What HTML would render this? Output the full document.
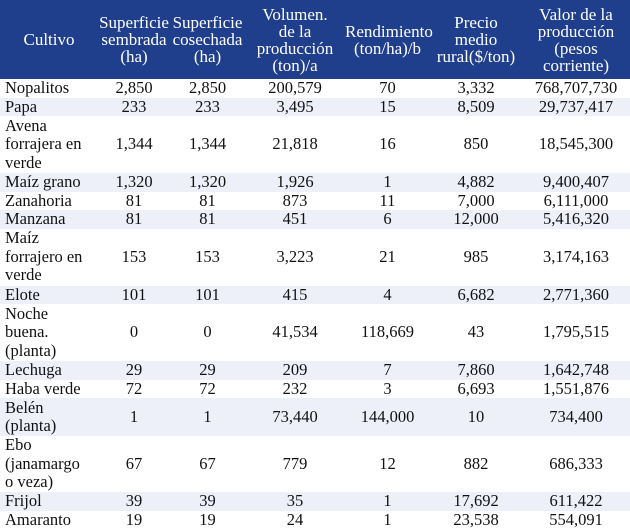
<!DOCTYPE html>
<html><head><meta charset="utf-8"><style>
body{margin:0;width:630px;height:529px;background:#fff;overflow:hidden}
table{border-collapse:collapse;width:630px;table-layout:fixed;font-family:"Liberation Serif",serif;font-size:16.5px;color:#111}
td,th{padding:0;line-height:18.5px;text-align:center;vertical-align:middle;white-space:nowrap}
th{background:#1f3e8c;color:#fff;font-weight:normal;line-height:17px;font-size:17px}
td:first-child{text-align:left;padding-left:5px}
th:first-child{text-align:center}
tr.l td{background:#edf0f9}
</style></head><body>
<table>
<colgroup><col style="width:98px"><col style="width:72px"><col style="width:75px"><col style="width:100px"><col style="width:85px"><col style="width:92px"><col style="width:108px"></colgroup>
<tr style="height:79px">
<th>Cultivo</th>
<th>Superficie<br>sembrada<br>(ha)</th>
<th>Superficie<br>cosechada<br>(ha)</th>
<th>Volumen.<br>de la<br>producción<br>(ton)/a</th>
<th>Rendimiento<br>(ton/ha)/b</th>
<th>Precio<br>medio<br>rural($/ton)</th>
<th>Valor de la<br>producción<br>(pesos<br>corriente)</th>
</tr>
<tr style="height:17px"><td>Nopalitos</td><td>2,850</td><td>2,850</td><td>200,579</td><td>70</td><td>3,332</td><td>768,707,730</td></tr>
<tr class="l" style="height:18px"><td>Papa</td><td>233</td><td>233</td><td>3,495</td><td>15</td><td>8,509</td><td>29,737,417</td></tr>
<tr style="height:57px"><td>Avena<br>forrajera en<br>verde</td><td>1,344</td><td>1,344</td><td>21,818</td><td>16</td><td>850</td><td>18,545,300</td></tr>
<tr class="l" style="height:18px"><td>Maíz grano</td><td>1,320</td><td>1,320</td><td>1,926</td><td>1</td><td>4,882</td><td>9,400,407</td></tr>
<tr style="height:18px"><td>Zanahoria</td><td>81</td><td>81</td><td>873</td><td>11</td><td>7,000</td><td>6,111,000</td></tr>
<tr class="l" style="height:18px"><td>Manzana</td><td>81</td><td>81</td><td>451</td><td>6</td><td>12,000</td><td>5,416,320</td></tr>
<tr style="height:57px"><td>Maíz<br>forrajero en<br>verde</td><td>153</td><td>153</td><td>3,223</td><td>21</td><td>985</td><td>3,174,163</td></tr>
<tr class="l" style="height:18px"><td>Elote</td><td>101</td><td>101</td><td>415</td><td>4</td><td>6,682</td><td>2,771,360</td></tr>
<tr style="height:57px"><td>Noche<br>buena.<br>(planta)</td><td>0</td><td>0</td><td>41,534</td><td>118,669</td><td>43</td><td>1,795,515</td></tr>
<tr class="l" style="height:18px"><td>Lechuga</td><td>29</td><td>29</td><td>209</td><td>7</td><td>7,860</td><td>1,642,748</td></tr>
<tr style="height:18px"><td>Haba verde</td><td>72</td><td>72</td><td>232</td><td>3</td><td>6,693</td><td>1,551,876</td></tr>
<tr class="l" style="height:38px"><td>Belén<br>(planta)</td><td>1</td><td>1</td><td>73,440</td><td>144,000</td><td>10</td><td>734,400</td></tr>
<tr style="height:56px"><td>Ebo<br>(janamargo<br>o veza)</td><td>67</td><td>67</td><td>779</td><td>12</td><td>882</td><td>686,333</td></tr>
<tr class="l" style="height:18px"><td>Frijol</td><td>39</td><td>39</td><td>35</td><td>1</td><td>17,692</td><td>611,422</td></tr>
<tr style="height:18px"><td>Amaranto</td><td>19</td><td>19</td><td>24</td><td>1</td><td>23,538</td><td>554,091</td></tr>
</table>
</body></html>
